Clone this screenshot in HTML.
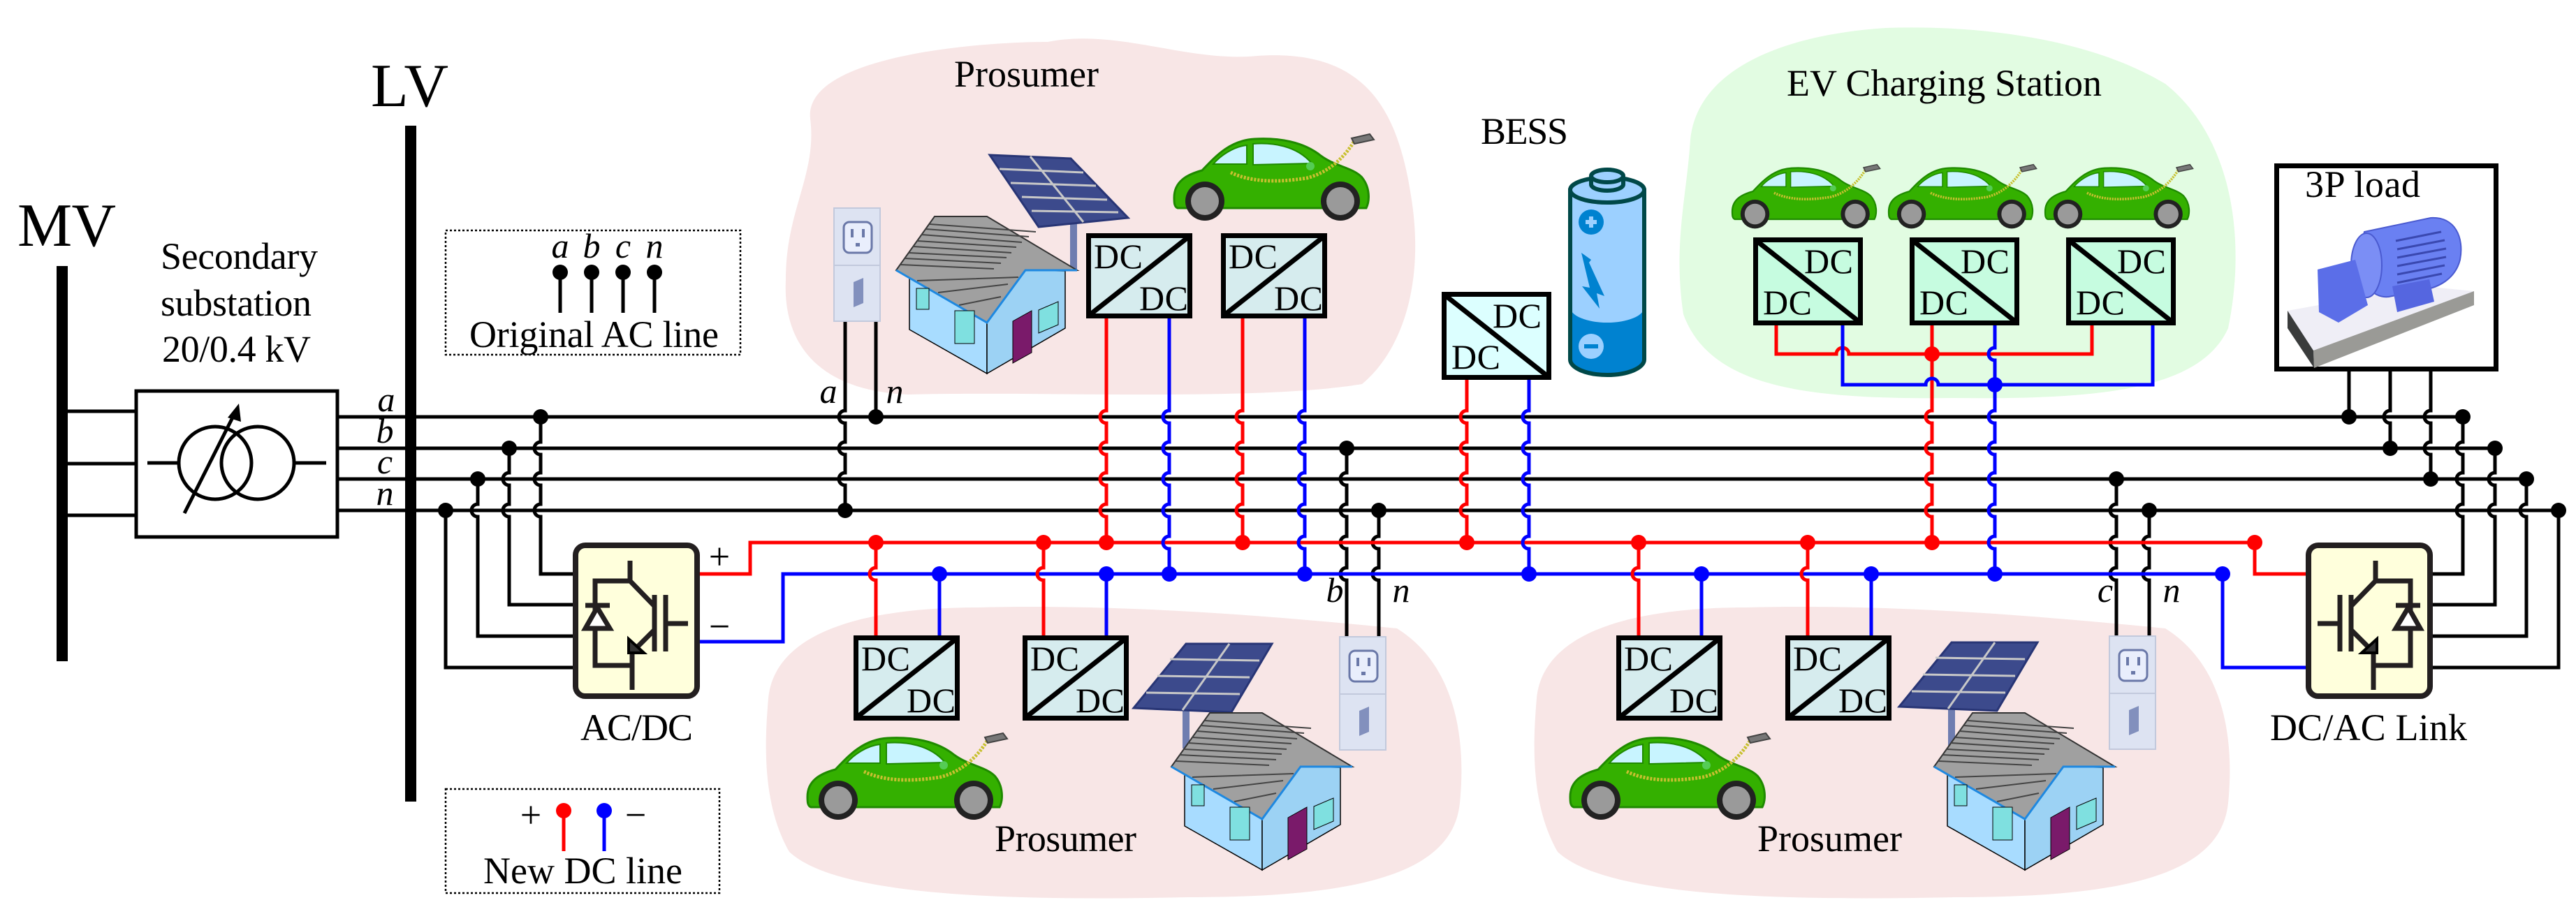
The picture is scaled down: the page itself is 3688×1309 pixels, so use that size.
<!DOCTYPE html>
<html><head><meta charset="utf-8">
<style>
html,body{margin:0;padding:0;background:#fff;}
svg{display:block;}
text{font-family:"Liberation Serif","Times New Roman",Times,serif;fill:#000;}
.it{font-style:italic;}
</style></head>
<body>
<svg width="3688" height="1309" viewBox="0 0 3688 1309" xmlns="http://www.w3.org/2000/svg" font-family="'Liberation Serif', 'Times New Roman', Times, serif">
<defs>
<symbol id="car" overflow="visible">
  <path d="M0 85 C0 62 18 52 40 46 C60 25 80 3 115 1 C150 -1 185 5 210 25 C230 40 255 42 268 55 C281 70 280 90 275 100 L5 100 C0 98 0 92 0 85Z" fill="#34b000" stroke="#1f8a00" stroke-width="3"/>
  <path d="M56 37 C66 25 85 12 104 10 L104 37 Z" fill="#c8f4ff" stroke="#1f8a00" stroke-width="2"/>
  <path d="M113 8 C140 6 175 10 197 36 L113 38 Z" fill="#c8f4ff" stroke="#1f8a00" stroke-width="2"/>
  <path d="M81 49 Q120 68 190 57 Q232 46 258 4" fill="none" stroke="#c8c030" stroke-width="5" stroke-dasharray="3 2"/>
  <path d="M254 0 L280 -6 L286 2 L258 8Z" fill="#777" stroke="#444" stroke-width="2"/>
  <circle cx="44" cy="90" r="28" fill="#222"/><circle cx="44" cy="90" r="20" fill="#9a9a9a"/>
  <circle cx="238" cy="90" r="28" fill="#222"/><circle cx="238" cy="90" r="20" fill="#9a9a9a"/>
  <circle cx="195" cy="40" r="6" fill="#5c5"/>
</symbol>
<symbol id="house" overflow="visible">
  <polygon points="19,90 130,155 130,228 19,165" fill="#a8dcff" stroke="#000" stroke-width="1.5"/>
  <polygon points="130,155 185,80 242,81 242,163 130,228" fill="#9cd2f4" stroke="#000" stroke-width="1.5"/>
  <polygon points="0,80 55,3 130,3 259,80 185,80 130,155" fill="#a0a0a0" stroke="#333" stroke-width="2"/>
  <path d="M12 63 L150 70 M24 46 L165 55 M36 29 L180 40 M48 14 L200 25 M6 72 L140 78 M18 55 L158 62 M30 38 L172 47 M42 21 L190 32 M30 95 L175 90 M60 112 L160 100 M90 130 L150 118" stroke="#444" stroke-width="2" fill="none"/>
  <path d="M0 80 L130 155 L185 80 L259 80" stroke="#1e88e0" stroke-width="3" fill="none"/>
  <polygon points="167,153 194,138 194,198 167,213" fill="#7a1a6a" stroke="#000" stroke-width="1"/>
  <rect x="29" y="106" width="18" height="30" fill="#7fe0e0" stroke="#000"/>
  <rect x="84" y="138" width="28" height="47" fill="#7fe0e0" stroke="#000"/>
  <polygon points="204,137 232,125 232,158 204,170" fill="#7fe0e0" stroke="#000"/>
</symbol>
<symbol id="sol1" overflow="visible">
  <rect x="115" y="99" width="10" height="68" fill="#6f7db0"/>
  <polygon points="0,2 116,7 198,92 70,105" fill="#3c4a8c" stroke="#283575" stroke-width="3"/>
  <path d="M58 4 L134 98 M14 22 L134 27 M30 42 L152 46 M46 62 L168 66 M60 82 L184 84" stroke="#c8c8c8" stroke-width="3" fill="none"/>
</symbol>
<symbol id="sol2" overflow="visible">
  <rect x="70" y="90" width="10" height="60" fill="#6f7db0"/>
  <polygon points="75,0 198,0 140,98 0,92" fill="#3c4a8c" stroke="#283575" stroke-width="3"/>
  <path d="M137 0 L70 95 M52 22 L180 24 M34 46 L166 48 M18 70 L152 72" stroke="#c8c8c8" stroke-width="3" fill="none"/>
</symbol>
<symbol id="outlet" overflow="visible">
  <rect x="0" y="0" width="66" height="162" fill="#dde3f2" stroke="#c2c9dc" stroke-width="2"/>
  <line x1="0" y1="82" x2="66" y2="82" stroke="#c2c9dc" stroke-width="2"/>
  <rect x="14" y="20" width="40" height="44" rx="8" fill="#e9eefc" stroke="#6a78a8" stroke-width="3"/>
  <rect x="24" y="30" width="4" height="12" fill="#6a78a8"/><rect x="40" y="30" width="4" height="12" fill="#6a78a8"/>
  <rect x="31" y="50" width="6" height="5" fill="#6a78a8"/>
  <polygon points="28,106 42,100 42,136 28,142" fill="#8290bd"/>
</symbol>
<symbol id="conv" overflow="visible">
  <rect x="824" y="781" width="174" height="216" rx="14" fill="#ffffdc" stroke="#231f20" stroke-width="8"/>
  <g stroke="#231f20" stroke-width="7" fill="none">
    <path d="M902 803 V832 L936 867"/>
    <path d="M902 832 H852 V953 H905"/>
    <path d="M905 935 V988"/>
    <path d="M936 903 L910 929"/>
    <path d="M937 852 V933 M953 852 V933 M953 893 H985"/>
    <path d="M838 867 H873"/>
    <polygon points="838,900 873,900 855,870" fill="#fff"/>
  </g>
  <polygon points="900,915 900,935 922,935" fill="#333" stroke="#000" stroke-width="4"/>
</symbol>
<symbol id="dcA" overflow="visible">
  <rect x="3.5" y="3.5" width="145" height="115" fill="#d6ecee" stroke="#000" stroke-width="7"/>
  <line x1="5" y1="117" x2="147" y2="5" stroke="#000" stroke-width="7"/>
  <text x="11" y="50" font-size="50" textLength="70">DC</text>
  <text x="76" y="110" font-size="50" textLength="70">DC</text>
</symbol>
<symbol id="dcB" overflow="visible">
  <rect x="3.5" y="3.5" width="150" height="119" stroke="#000" stroke-width="7" fill="inherit"/>
  <line x1="5" y1="5" x2="152" y2="121" stroke="#000" stroke-width="7"/>
  <text x="73" y="51" font-size="50" textLength="70">DC</text>
  <text x="14" y="110" font-size="50" textLength="70">DC</text>
</symbol>
</defs>

<path d="M1160 170 C1150 80 1400 60 1500 60 C1600 40 1700 90 1800 80 C1950 70 2000 150 2020 280 C2040 400 2010 500 1950 550 C1800 575 1500 560 1300 565 C1180 560 1120 500 1125 400 C1125 300 1170 250 1160 170 Z" fill="#f8e6e6"/>
<path d="M1100 1000 C1110 900 1250 870 1400 870 C1600 865 1800 880 2000 900 C2080 950 2100 1050 2090 1150 C2080 1250 1950 1285 1700 1285 C1450 1290 1200 1285 1130 1220 C1090 1150 1095 1060 1100 1000Z" fill="#f8e6e6"/>
<path d="M2200 1000 C2210 900 2350 870 2500 870 C2700 865 2900 880 3100 900 C3180 950 3200 1050 3190 1150 C3180 1250 3050 1285 2800 1285 C2550 1290 2300 1285 2230 1220 C2190 1150 2195 1060 2200 1000Z" fill="#f8e6e6"/>
<path d="M2420 200 C2430 100 2550 50 2700 40 C2850 35 3000 60 3100 120 C3200 200 3215 350 3190 470 C3150 560 3000 572 2800 570 C2600 572 2450 560 2410 450 C2395 350 2415 280 2420 200Z" fill="#e2fce2"/>

<text x="25" y="352" font-size="88" textLength="141">MV</text>
<text x="531" y="152" font-size="88" textLength="111">LV</text>
<text x="230" y="385" font-size="54" textLength="225">Secondary</text>
<text x="230" y="452" font-size="54" textLength="216">substation</text>
<text x="232" y="518" font-size="54" textLength="213">20/0.4 kV</text>
<text x="1366" y="124" font-size="54" textLength="207">Prosumer</text>
<text x="1424" y="1219" font-size="54" textLength="203">Prosumer</text>
<text x="2516" y="1219" font-size="54" textLength="207">Prosumer</text>
<text x="2120" y="206" font-size="54" textLength="125">BESS</text>
<text x="2558" y="137" font-size="54" textLength="451">EV Charging Station</text>
<text x="831" y="1060" font-size="54" textLength="161">AC/DC</text>
<text x="3250" y="1060" font-size="54" textLength="282">DC/AC Link</text>

<rect x="638" y="330" width="422" height="178" fill="none" stroke="#000" stroke-width="2.5" stroke-dasharray="3 3"/>
<g font-size="50">
<text x="802" y="369" text-anchor="middle" class="it">a</text>
<text x="847" y="369" text-anchor="middle" class="it">b</text>
<text x="892" y="369" text-anchor="middle" class="it">c</text>
<text x="937" y="369" text-anchor="middle" class="it">n</text>
</g>
<g stroke="#000" stroke-width="5"><path d="M802 390V448M847 390V448M892 390V448M937 390V448"/></g>
<g fill="#000"><circle cx="802" cy="390" r="11"/><circle cx="847" cy="390" r="11"/><circle cx="892" cy="390" r="11"/><circle cx="937" cy="390" r="11"/></g>
<text x="672" y="497" font-size="54" textLength="357">Original AC line</text>

<rect x="638" y="1130" width="392" height="149" fill="none" stroke="#000" stroke-width="2.5" stroke-dasharray="3 3"/>
<text x="760" y="1185" font-size="54" text-anchor="middle">+</text>
<text x="910" y="1185" font-size="54" text-anchor="middle">−</text>
<path d="M807 1161V1219" stroke="#f00" stroke-width="5"/><circle cx="807" cy="1161" r="11" fill="#f00"/>
<path d="M865 1161V1219" stroke="#00f" stroke-width="5"/><circle cx="865" cy="1161" r="11" fill="#00f"/>
<text x="692" y="1265" font-size="54" textLength="285">New DC line</text>

<g stroke="#000" stroke-width="5" fill="none">
<path d="M89 589H195M89 664H195M89 738H195"/>
<rect x="195" y="560" width="288" height="209"/>
<circle cx="308" cy="663" r="52"/><circle cx="369" cy="663" r="52"/>
<path d="M211 663H257M419 663H467"/>
<path d="M264 735L338 588"/>
</g>
<polygon points="342,578 326,598 345,604" fill="#000"/>

<g stroke="#000" stroke-width="5" fill="none">
<path d="M483 597H3526M483 642H3572M483 686H3617M483 731H3663"/>
<path d="M774 597V633a9,9 0 0 0 0,18V677a9,9 0 0 0 0,18V722a9,9 0 0 0 0,18V822H821"/>
<path d="M729 642V677a9,9 0 0 0 0,18V722a9,9 0 0 0 0,18V866H821"/>
<path d="M684 686V722a9,9 0 0 0 0,18V911H821"/>
<path d="M638 731V956H821"/>
<path d="M3526 597V633a9,9 0 0 0 0,18V677a9,9 0 0 0 0,18V722a9,9 0 0 0 0,18V822H3482"/>
<path d="M3572 642V677a9,9 0 0 0 0,18V722a9,9 0 0 0 0,18V866H3482"/>
<path d="M3617 686V722a9,9 0 0 0 0,18V911H3482"/>
<path d="M3663 731V956H3482"/>
<path d="M3363 532V597M3422 532V588a9,9 0 0 0 0,18V642M3480 532V588a9,9 0 0 0 0,18V633a9,9 0 0 0 0,18V686"/>
<path d="M1210 460V588a9,9 0 0 0 0,18V633a9,9 0 0 0 0,18V677a9,9 0 0 0 0,18V731M1254 460V597"/>
<path d="M1928 642V677a9,9 0 0 0 0,18V722a9,9 0 0 0 0,18V768a9,9 0 0 0 0,18V813a9,9 0 0 0 0,18V912"/>
<path d="M1974 731V768a9,9 0 0 0 0,18V813a9,9 0 0 0 0,18V912"/>
<path d="M3030 686V722a9,9 0 0 0 0,18V768a9,9 0 0 0 0,18V813a9,9 0 0 0 0,18V911"/>
<path d="M3077 731V768a9,9 0 0 0 0,18V813a9,9 0 0 0 0,18V911"/>
</g>

<g fill="none" stroke-width="5">
<path d="M1002 822H1074V777H3228V822H3301" stroke="#f00"/>
<path d="M1002 919H1121V822H3182V956H3301" stroke="#00f"/>
<g stroke="#f00">
<path d="M1584 456V588a9,9 0 0 0 0,18V633a9,9 0 0 0 0,18V677a9,9 0 0 0 0,18V722a9,9 0 0 0 0,18V777"/>
<path d="M1779 456V588a9,9 0 0 0 0,18V633a9,9 0 0 0 0,18V677a9,9 0 0 0 0,18V722a9,9 0 0 0 0,18V777"/>
<path d="M2100 539V588a9,9 0 0 0 0,18V633a9,9 0 0 0 0,18V677a9,9 0 0 0 0,18V722a9,9 0 0 0 0,18V777"/>
<path d="M2766 463V588a9,9 0 0 0 0,18V633a9,9 0 0 0 0,18V677a9,9 0 0 0 0,18V722a9,9 0 0 0 0,18V777"/>
<path d="M2543 463V507H2629a9,9 0 0 1 18,0H2995V463"/>
<path d="M1254 777V813a9,9 0 0 0 0,18V910M1494 777V813a9,9 0 0 0 0,18V910M2346 777V813a9,9 0 0 0 0,18V910M2588 777V813a9,9 0 0 0 0,18V910"/>
</g>
<g stroke="#00f">
<path d="M1674 456V588a9,9 0 0 0 0,18V633a9,9 0 0 0 0,18V677a9,9 0 0 0 0,18V722a9,9 0 0 0 0,18V768a9,9 0 0 0 0,18V822"/>
<path d="M1868 456V588a9,9 0 0 0 0,18V633a9,9 0 0 0 0,18V677a9,9 0 0 0 0,18V722a9,9 0 0 0 0,18V768a9,9 0 0 0 0,18V822"/>
<path d="M2189 539V588a9,9 0 0 0 0,18V633a9,9 0 0 0 0,18V677a9,9 0 0 0 0,18V722a9,9 0 0 0 0,18V768a9,9 0 0 0 0,18V822"/>
<path d="M2856 463V498a9,9 0 0 0 0,18V588a9,9 0 0 0 0,18V633a9,9 0 0 0 0,18V677a9,9 0 0 0 0,18V722a9,9 0 0 0 0,18V768a9,9 0 0 0 0,18V822"/>
<path d="M2638 463V551H2757a9,9 0 0 1 18,0H3082V463"/>
<path d="M1345 822V910M1584 822V910M2436 822V910M2679 822V910"/>
</g>
</g>

<rect x="81" y="381" width="16" height="566" fill="#000"/>
<rect x="580" y="180" width="16" height="968" fill="#000"/>

<g fill="#000">
<circle cx="774" cy="597" r="11"/><circle cx="729" cy="642" r="11"/><circle cx="684" cy="686" r="11"/><circle cx="638" cy="731" r="11"/>
<circle cx="1254" cy="597" r="11"/><circle cx="1210" cy="731" r="11"/><circle cx="1928" cy="642" r="11"/><circle cx="1974" cy="731" r="11"/>
<circle cx="3030" cy="686" r="11"/><circle cx="3077" cy="731" r="11"/><circle cx="3363" cy="597" r="11"/><circle cx="3422" cy="642" r="11"/>
<circle cx="3480" cy="686" r="11"/><circle cx="3526" cy="597" r="11"/><circle cx="3572" cy="642" r="11"/><circle cx="3617" cy="686" r="11"/><circle cx="3663" cy="731" r="11"/>
</g>
<g fill="#f00">
<circle cx="1254" cy="777" r="11"/><circle cx="1494" cy="777" r="11"/><circle cx="1584" cy="777" r="11"/><circle cx="1779" cy="777" r="11"/>
<circle cx="2100" cy="777" r="11"/><circle cx="2346" cy="777" r="11"/><circle cx="2588" cy="777" r="11"/><circle cx="2766" cy="777" r="11"/>
<circle cx="2766" cy="507" r="11"/><circle cx="3228" cy="777" r="11"/>
</g>
<g fill="#00f">
<circle cx="1345" cy="822" r="11"/><circle cx="1584" cy="822" r="11"/><circle cx="1674" cy="822" r="11"/><circle cx="1868" cy="822" r="11"/>
<circle cx="2189" cy="822" r="11"/><circle cx="2436" cy="822" r="11"/><circle cx="2679" cy="822" r="11"/><circle cx="2856" cy="822" r="11"/>
<circle cx="2856" cy="551" r="11"/><circle cx="3182" cy="822" r="11"/>
</g>

<g font-size="50" text-anchor="middle">
<text x="553" y="589" class="it">a</text><text x="551" y="634" class="it">b</text><text x="551" y="678" class="it">c</text><text x="551" y="723" class="it">n</text>
<text x="1186" y="577" class="it">a</text><text x="1281" y="577" class="it">n</text>
<text x="1911" y="862" class="it">b</text><text x="2006" y="862" class="it">n</text>
<text x="3014" y="862" class="it">c</text><text x="3109" y="862" class="it">n</text>
</g>
<text x="1030" y="815" font-size="54" text-anchor="middle">+</text>
<text x="1030" y="915" font-size="54" text-anchor="middle">−</text>

<use href="#conv"/>
<g transform="translate(4303,0) scale(-1,1)"><use href="#conv"/></g>

<use href="#dcA" x="1555" y="334"/>
<use href="#dcA" x="1748" y="334"/>
<use href="#dcA" x="1222" y="910"/>
<use href="#dcA" x="1464" y="910"/>
<use href="#dcA" x="2314" y="910"/>
<use href="#dcA" x="2556" y="910"/>
<use href="#dcB" x="2064" y="418" fill="#dcffff"/>
<use href="#dcB" x="2510" y="340" fill="#c6fce0"/>
<use href="#dcB" x="2734" y="340" fill="#c6fce0"/>
<use href="#dcB" x="2958" y="340" fill="#c6fce0"/>

<use href="#sol1" x="1417" y="220"/>
<use href="#house" x="1283" y="307"/>
<use href="#outlet" x="1194" y="298"/>
<use href="#outlet" x="1918" y="912"/>
<use href="#outlet" x="3020" y="911"/>
<use href="#car" x="1681" y="198"/>
<use href="#car" x="1156" y="1056"/>
<use href="#car" x="2248" y="1056"/>
<g transform="translate(2480,240) scale(0.74)"><use href="#car"/></g>
<g transform="translate(2704,240) scale(0.74)"><use href="#car"/></g>
<g transform="translate(2928,240) scale(0.74)"><use href="#car"/></g>
<use href="#sol2" x="1623" y="922"/>
<use href="#house" x="1677" y="1018"/>
<use href="#sol2" x="2719" y="920"/>
<use href="#house" x="2769" y="1018"/>

<g stroke="#004848" stroke-width="6">
<path d="M2248 270 V515 A53 22 0 0 0 2354 515 V270" fill="#0082d0"/>
<path d="M2248 270 V440 A53 22 0 0 0 2354 440 V270" fill="#9cd0ff" stroke="none"/>
<path d="M2248 270 V515 M2354 270 V515" fill="none"/>
<ellipse cx="2301" cy="272" rx="53" ry="18" fill="#9cd0ff"/>
<path d="M2278 252 V264 A23 9 0 0 0 2324 264 V252" fill="#9cd0ff"/>
<ellipse cx="2301" cy="252" rx="23" ry="9" fill="#9cd0ff"/>
</g>
<circle cx="2278" cy="318" r="18" fill="#0082d0"/>
<path d="M2270 318H2286M2278 310V326" stroke="#9cd0ff" stroke-width="6"/>
<circle cx="2278" cy="496" r="18" fill="#9cd0ff"/>
<path d="M2268 496H2288" stroke="#0082d0" stroke-width="6"/>
<path d="M2264 362 L2278 372 L2275 376 L2297 424 L2286 420 L2290 442 L2265 410 L2276 412Z" fill="#0082d0"/>

<rect x="3259.5" y="237.5" width="314" height="291" fill="#fff" stroke="#000" stroke-width="7"/>
<text x="3300" y="282" font-size="54" textLength="165">3P load</text>
<polygon points="3275,445 3470,410 3542,417 3312,502" fill="#efeef6"/>
<polygon points="3312,502 3542,417 3542,437 3313,527" fill="#9a9a96"/>
<polygon points="3275,445 3312,502 3313,527 3275,470" fill="#3a3c3c"/>
<path d="M3385 332 L3480 312 C3515 310 3528 340 3522 372 C3515 400 3490 412 3470 415 L3420 425 C3395 428 3375 400 3375 370Z" fill="#6a80f2" stroke="#4a5ad0" stroke-width="2"/>
<g stroke="#3a48b0" stroke-width="3"><path d="M3430 345L3495 332M3432 357L3500 344M3432 369L3502 356M3432 381L3502 368M3432 393L3500 380M3432 405L3496 392"/></g>
<ellipse cx="3388" cy="380" rx="22" ry="46" fill="#7b8ef5" stroke="#4a5ad0" stroke-width="2"/>
<polygon points="3318,386 3372,372 3390,437 3348,462 3320,447" fill="#5b6ee8"/>
<polygon points="3425,410 3478,400 3485,432 3432,447" fill="#5566e0"/>
</svg>
</body></html>
